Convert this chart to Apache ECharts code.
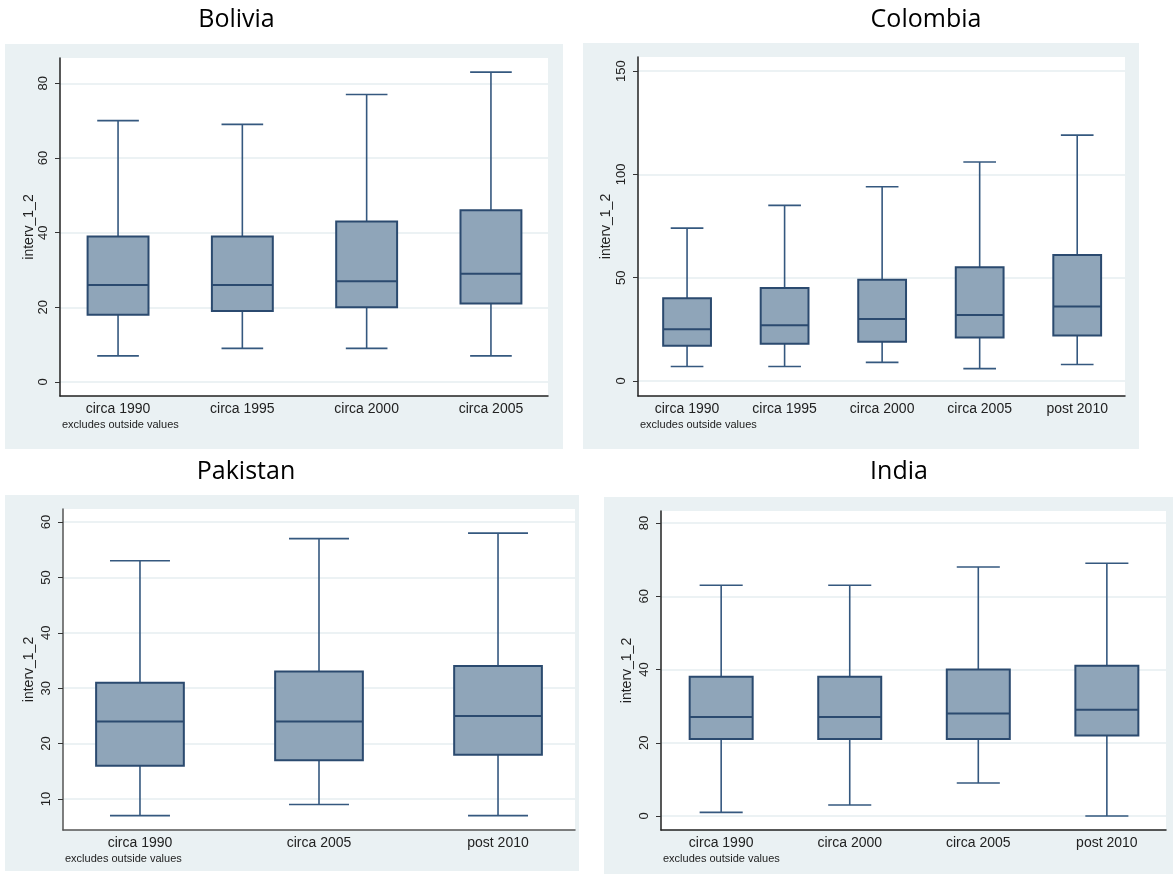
<!DOCTYPE html>
<html><head><meta charset="utf-8">
<script src="https://cdn.jsdelivr.net/npm/echarts@6/dist/echarts.min.js"></script>
<style>html,body{margin:0;padding:0;background:#fff}#c{width:1173px;height:874px}</style>
</head><body><div id="c"></div>
<script>
// ---- data: each box is [lower whisker, Q1, median, Q3, upper whisker] ----
const boliviaCats = ['circa 1990', 'circa 1995', 'circa 2000', 'circa 2005'];
const boliviaBoxes = [[7, 18, 26, 39, 70], [9, 19, 26, 39, 69], [9, 20, 27, 43, 77], [7, 21, 29, 46, 83]];
const boliviaTicks = [0, 20, 40, 60, 80];

const colombiaCats = ['circa 1990', 'circa 1995', 'circa 2000', 'circa 2005', 'post 2010'];
const colombiaBoxes = [[7, 17, 25, 40, 74], [7, 18, 27, 45, 85], [9, 19, 30, 49, 94], [6, 21, 32, 55, 106], [8, 22, 36, 61, 119]];
const colombiaTicks = [0, 50, 100, 150];

const pakistanCats = ['circa 1990', 'circa 2005', 'post 2010'];
const pakistanBoxes = [[7, 16, 24, 31, 53], [9, 17, 24, 33, 57], [7, 18, 25, 34, 58]];
const pakistanTicks = [10, 20, 30, 40, 50, 60];

const indiaCats = ['circa 1990', 'circa 2000', 'circa 2005', 'post 2010'];
const indiaBoxes = [[1, 21, 27, 38, 63], [3, 21, 27, 38, 63], [9, 21, 28, 40, 68], [0, 22, 29, 41, 69]];
const indiaTicks = [0, 20, 40, 60, 80];

const panelTitles = ['Bolivia', 'Colombia', 'Pakistan', 'India'];
const yAxisName = 'interv_1_2';
const noteText = 'excludes outside values';

// ---- layout ----
const panels = [
  { title: panelTitles[0], cats: boliviaCats, boxes: boliviaBoxes, ticks: boliviaTicks,
    grid: { left: 60, top: 58, width: 488, height: 338 }, xr: [-0.467, 3.459], yr: [-3.75, 86.78],
    bg: [5, 44, 558, 405], tpos: [236.5, 20], nameGap: 24, axisColor: '#222' },
  { title: panelTitles[1], cats: colombiaCats, boxes: colombiaBoxes, ticks: colombiaTicks,
    grid: { left: 638, top: 57, width: 487, height: 339 }, xr: [-0.503, 4.49], yr: [-7.26, 156.8],
    bg: [583, 43, 556, 406], tpos: [926, 20], nameGap: 25, axisColor: '#222' },
  { title: panelTitles[2], cats: pakistanCats, boxes: pakistanBoxes, ticks: pakistanTicks,
    grid: { left: 63, top: 509, width: 512, height: 321 }, xr: [-0.43, 2.43], yr: [4.4, 62.35],
    bg: [5, 495, 574, 376], tpos: [246, 472], nameGap: 27, axisColor: '#555' },
  { title: panelTitles[3], cats: indiaCats, boxes: indiaBoxes, ticks: indiaTicks,
    grid: { left: 661, top: 511, width: 505, height: 319 }, xr: [-0.468, 3.46], yr: [-3.82, 83.28],
    bg: [604, 497, 569, 377], tpos: [899, 472], nameGap: 27, axisColor: '#222' }
];

const FILL = '#8fa5b9', EDGE = '#2b4a6f', WHISK = '#35587f';
const AXFONT = '"Liberation Sans", Arial, sans-serif';

function renderBox(params, api) {
  const x = api.value(0);
  const pLo = api.coord([x, api.value(1)]);
  const pQ1 = api.coord([x, api.value(2)]);
  const pMed = api.coord([x, api.value(3)]);
  const pQ3 = api.coord([x, api.value(4)]);
  const pHi = api.coord([x, api.value(5)]);
  const boxW = api.size([0.49, 0])[0];
  const capW = api.size([0.335, 0])[0];
  const cx = pLo[0];
  const ws = { stroke: WHISK, lineWidth: 1.6 };
  return {
    type: 'group',
    children: [
      { type: 'line', shape: { x1: cx, y1: pQ3[1], x2: cx, y2: pHi[1] }, style: ws },
      { type: 'line', shape: { x1: cx, y1: pQ1[1], x2: cx, y2: pLo[1] }, style: ws },
      { type: 'line', shape: { x1: cx - capW / 2, y1: pHi[1], x2: cx + capW / 2, y2: pHi[1] }, style: ws },
      { type: 'line', shape: { x1: cx - capW / 2, y1: pLo[1], x2: cx + capW / 2, y2: pLo[1] }, style: ws },
      { type: 'rect', shape: { x: cx - boxW / 2, y: pQ3[1], width: boxW, height: pQ1[1] - pQ3[1] },
        style: { fill: FILL, stroke: EDGE, lineWidth: 2 } },
      { type: 'line', shape: { x1: cx - boxW / 2, y1: pMed[1], x2: cx + boxW / 2, y2: pMed[1] },
        style: { stroke: EDGE, lineWidth: 2 } }
    ]
  };
}

const grids = [], xAxes = [], yAxes = [], series = [], graphics = [];
panels.forEach((p, i) => {
  graphics.push({ type: 'rect', z: -100, silent: true,
    shape: { x: p.bg[0], y: p.bg[1], width: p.bg[2], height: p.bg[3] }, style: { fill: '#eaf1f3' } });
  graphics.push({ type: 'text', x: p.tpos[0], y: p.tpos[1], silent: true,
    style: { text: p.title, align: 'center', verticalAlign: 'middle', font: '25px "Open Sans", "Noto Sans", sans-serif', fill: '#000' } });
  graphics.push({ type: 'text', x: p.grid.left + 2, y: p.grid.top + p.grid.height + 29, silent: true,
    style: { text: noteText, align: 'left', verticalAlign: 'middle', font: '11px ' + AXFONT, fill: '#222' } });

  grids.push(Object.assign({ show: true, backgroundColor: '#fff', borderWidth: 0 }, p.grid));
  const idx = p.cats.map((c, k) => k);
  xAxes.push({
    type: 'value', gridIndex: i, min: p.xr[0], max: p.xr[1],
    axisLine: { show: true, onZero: false, lineStyle: { color: p.axisColor, width: 1.5 } },
    axisTick: { show: false },
    splitLine: { show: false },
    axisLabel: { customValues: idx, formatter: v => p.cats[Math.round(v)], fontSize: 14, margin: 6,
      color: '#222', fontFamily: AXFONT }
  });
  yAxes.push({
    type: 'value', gridIndex: i, min: p.yr[0], max: p.yr[1],
    name: yAxisName, nameLocation: 'middle', nameRotate: 90, nameGap: p.nameGap,
    nameTextStyle: { fontSize: 14, color: '#222', fontFamily: AXFONT },
    axisLine: { show: true, onZero: false, lineStyle: { color: p.axisColor, width: 1.5 } },
    axisTick: { show: true, customValues: p.ticks, length: 5, lineStyle: { color: '#333' } },
    splitLine: { show: true, lineStyle: { color: '#e6eef0', width: 1.5 } },
    axisLabel: { customValues: p.ticks, rotate: 90, fontSize: 13, margin: 10, color: '#222', fontFamily: AXFONT }
  });
  series.push({
    type: 'custom', xAxisIndex: i, yAxisIndex: i, clip: false,
    encode: { x: 0, y: [1, 2, 3, 4, 5] },
    data: p.boxes.map((b, k) => [k].concat(b)),
    renderItem: renderBox
  });
});

const chart = echarts.init(document.getElementById('c'));
chart.setOption({
  backgroundColor: '#fff',
  animation: false,
  graphic: { elements: graphics },
  grid: grids, xAxis: xAxes, yAxis: yAxes, series: series
});
</script></body></html>
